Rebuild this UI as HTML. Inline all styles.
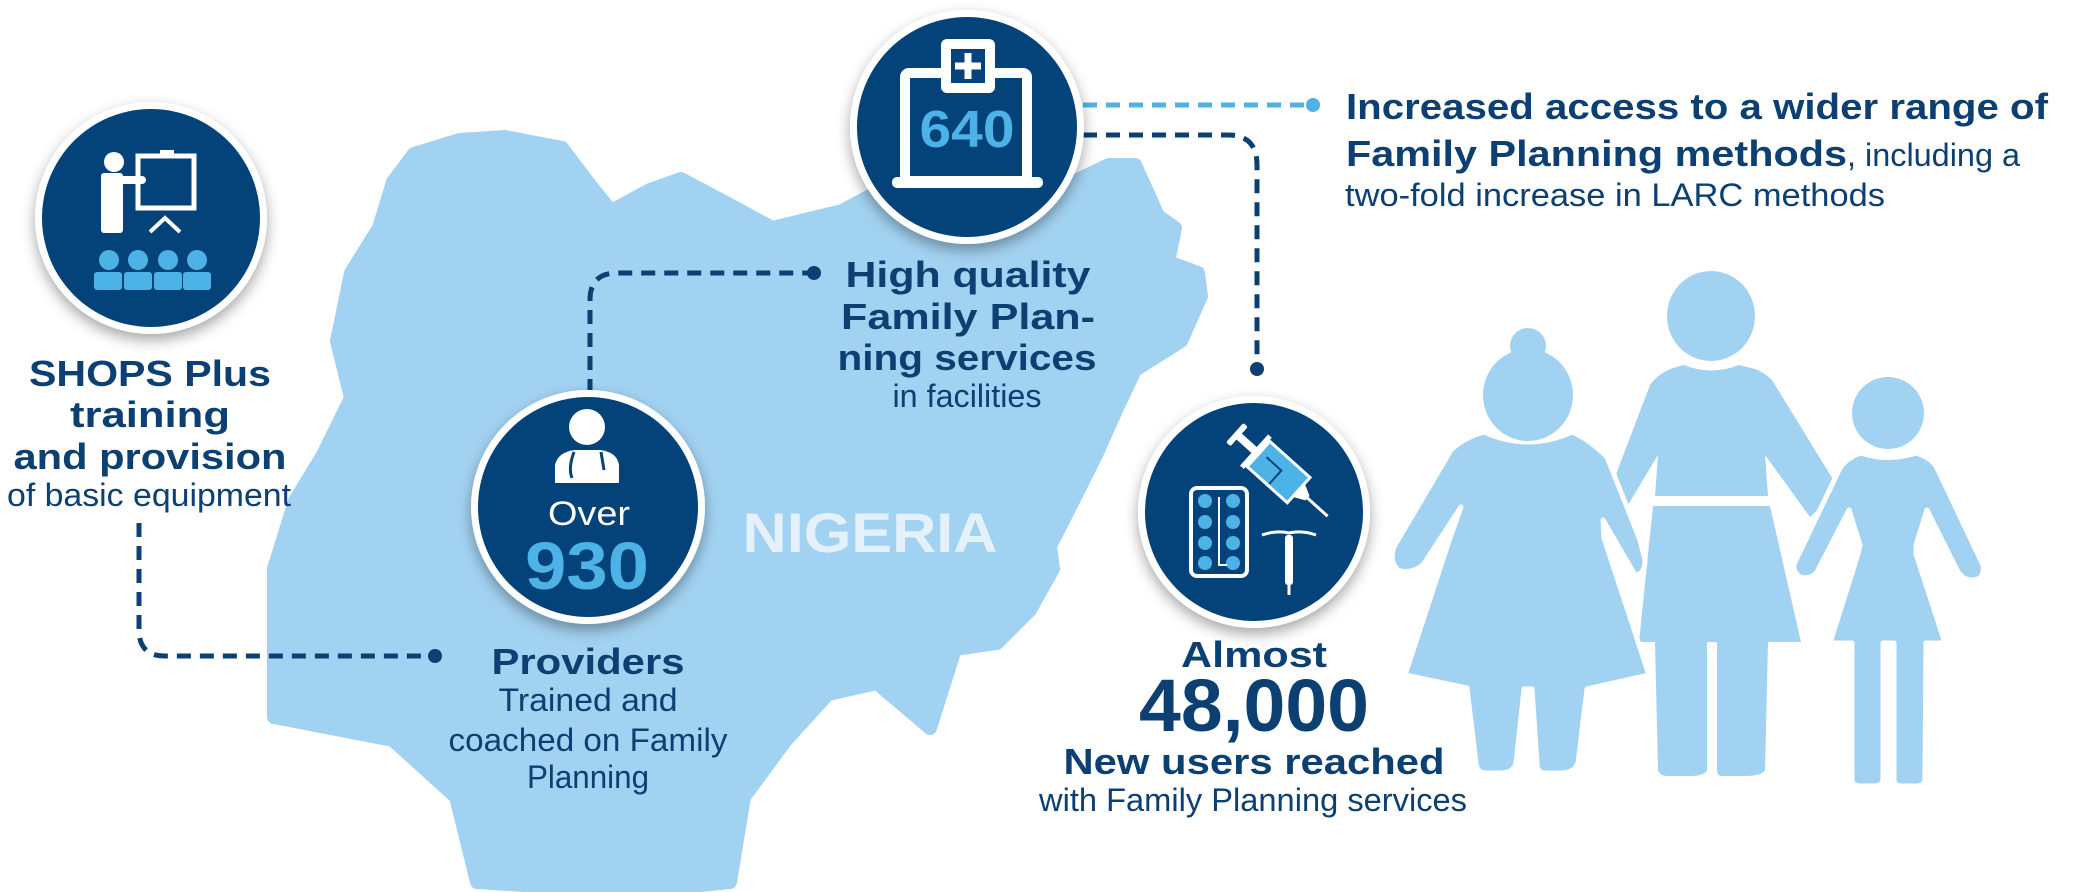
<!DOCTYPE html>
<html><head><meta charset="utf-8"><style>
html,body{margin:0;padding:0;background:#fff;}
svg{display:block;}
.b{font-family:"Liberation Sans",sans-serif;font-weight:bold;fill:#0c3f72;}
.l{font-family:"Liberation Sans",sans-serif;fill:#0c3f72;}
</style></head><body>
<svg width="2081" height="892" viewBox="0 0 2081 892" xmlns="http://www.w3.org/2000/svg">
<defs>
<filter id="sh" x="-30%" y="-30%" width="160%" height="160%"><feDropShadow dx="0" dy="6" stdDeviation="7" flood-color="#000" flood-opacity="0.35"/></filter>
</defs>
<!-- Nigeria map -->
<path fill="#a2d2f1" stroke="#a2d2f1" stroke-width="14" stroke-linejoin="round" d="M414,154 L460,140 505,137 562,148 590,185 611,211 650,190 681,179 730,205 772,228 842,211 885,188 960,200 1050,193 1109,165 1135,165 1158,216 1175,228 1168,262 1198,273 1201,296 1181,341 1135,370 1116,410 1096,455 1076,495 1050,546 1053,569 1030,610 997,643 955,649 930,728 877,683 828,694 786,740 744,797 730,882 632,892 477,882 456,797 393,740 274,717 274,569 295,501 323,455 351,398 337,341 351,273 379,228 393,182 Z"/>
<text x="870" y="552" text-anchor="middle" font-family="Liberation Sans,sans-serif" font-weight="bold" font-size="56" fill="#e4f0fa" textLength="255" lengthAdjust="spacingAndGlyphs">NIGERIA</text>

<!-- dashed connectors -->
<g fill="none" stroke="#0c3f72" stroke-width="5" stroke-dasharray="14 9">
<path d="M139,523 L139,630 Q139,656 165,656 L430,656"/>
<path d="M590,393 L590,300 Q590,273 617,273 L810,273"/>
<path d="M1083,135 L1228,135 Q1257,135 1257,165 L1257,365"/>
</g>
<path d="M1083,105 L1310,105" fill="none" stroke="#4db3e6" stroke-width="5" stroke-dasharray="14 9"/>
<g fill="#0c3f72"><circle cx="435" cy="656" r="7"/><circle cx="814" cy="273" r="7"/><circle cx="1257" cy="369" r="7"/></g>
<circle cx="1313" cy="105" r="7" fill="#4db3e6"/>

<!-- circles -->
<g filter="url(#sh)" fill="#fff">
<circle cx="151" cy="218" r="116"/><circle cx="967" cy="127" r="117"/><circle cx="588" cy="507" r="117"/><circle cx="1254" cy="512" r="116"/>
</g>
<g fill="#04427a">
<circle cx="151" cy="218" r="109"/><circle cx="967" cy="127" r="110"/><circle cx="588" cy="507" r="110"/><circle cx="1254" cy="512" r="109"/>
</g>

<!-- training icon -->
<g fill="#fff">
<circle cx="114" cy="162" r="10"/>
<rect x="101" y="173" width="22" height="60" rx="3"/>
<rect x="118" y="176" width="28" height="8" rx="4"/>
</g>
<rect x="138" y="156" width="56" height="52" fill="none" stroke="#fff" stroke-width="5"/>
<rect x="160" y="150" width="14" height="6" fill="#fff"/>
<path d="M150,232 L165,218 180,232" fill="none" stroke="#fff" stroke-width="4"/>
<g fill="#4db3e6">
<circle cx="109" cy="260" r="10"/><circle cx="138" cy="260" r="10"/><circle cx="168" cy="260" r="10"/><circle cx="197" cy="260" r="10"/>
<rect x="94" y="272" width="28" height="18" rx="3"/><rect x="124" y="272" width="28" height="18" rx="3"/><rect x="154" y="272" width="28" height="18" rx="3"/><rect x="183" y="272" width="28" height="18" rx="3"/>
</g>

<!-- 640 icon -->
<rect x="905" y="73" width="122" height="108" fill="none" stroke="#fff" stroke-width="10" rx="4"/>
<rect x="892" y="177" width="151" height="11" rx="5" fill="#fff"/>
<rect x="941" y="39" width="54" height="54" rx="6" fill="#fff"/>
<rect x="951" y="49" width="34" height="34" fill="#04427a"/>
<path d="M968,53 v26 M955,66 h26" stroke="#fff" stroke-width="7"/>
<text x="967" y="147" text-anchor="middle" font-family="Liberation Sans,sans-serif" font-weight="bold" font-size="52" fill="#4db3e6" textLength="95" lengthAdjust="spacingAndGlyphs">640</text>

<!-- doctor icon -->
<circle cx="587" cy="427" r="18" fill="#fff"/>
<path d="M555,483 L555,465 Q558,452 575,450 L600,450 Q617,452 619,465 L619,483 Z" fill="#fff"/>
<path d="M574,452 Q568,468 572,478 M601,452 L604,470" fill="none" stroke="#04427a" stroke-width="3"/>
<text x="589" y="525" text-anchor="middle" font-family="Liberation Sans,sans-serif" font-size="34" fill="#fff" textLength="82" lengthAdjust="spacingAndGlyphs">Over</text>
<text x="587" y="589" text-anchor="middle" font-family="Liberation Sans,sans-serif" font-weight="bold" font-size="67" fill="#4db3e6" textLength="124" lengthAdjust="spacingAndGlyphs">930</text>

<!-- contraceptives icon -->
<rect x="1191" y="488" width="56" height="88" rx="6" fill="none" stroke="#fff" stroke-width="4"/>
<g fill="#4db3e6">
<circle cx="1205" cy="501" r="7"/><circle cx="1233" cy="501" r="7"/>
<circle cx="1205" cy="522" r="7"/><circle cx="1233" cy="522" r="7"/>
<circle cx="1205" cy="543" r="7"/><circle cx="1233" cy="543" r="7"/>
<circle cx="1205" cy="563" r="7"/><circle cx="1233" cy="563" r="7"/>
</g>
<path d="M1219,497 V565 h8" stroke="#fff" stroke-width="2" fill="none"/>
<g transform="rotate(42 1280 472)">
<rect x="1220" y="460" width="6" height="26" rx="2" fill="#fff"/>
<rect x="1224" y="469" width="24" height="8" fill="#fff"/>
<rect x="1246" y="452" width="5" height="42" fill="#fff"/>
<rect x="1252" y="456" width="54" height="34" fill="#4db3e6" stroke="#fff" stroke-width="3"/>
<path d="M1260,470 h20 v18" stroke="#04427a" stroke-width="2" fill="none"/>
<path d="M1306,464 L1318,470 1318,476 1306,482 Z" fill="#fff"/>
<path d="M1318,473 H1345" stroke="#fff" stroke-width="3"/>
</g>
<path d="M1262,535 Q1276,530 1289,533 Q1302,530 1316,535" stroke="#fff" stroke-width="3" fill="none"/>
<rect x="1285" y="535" width="8" height="50" rx="3" fill="#fff"/>
<path d="M1289,585 v10" stroke="#fff" stroke-width="3"/>

<!-- family -->
<g fill="#a2d2f1">
<ellipse cx="1711" cy="316" rx="44" ry="45"/>
<path d="M1684,365 Q1711,376 1739,365 L1755,369 Q1770,375 1775,385 L1834,481 Q1830,500 1810,517 L1765,455 L1768,496 1655,496 1658,455 1625,510 1610,490 1650,385 Q1660,370 1684,365 Z"/>
<path d="M1653,506 L1770,506 1801,642 1768,642 1765,770 Q1762,776 1745,776 L1722,776 Q1717,776 1717,770 L1717,642 1707,642 1707,770 Q1705,776 1690,776 L1668,776 Q1660,776 1658,770 L1655,642 1639,642 Z"/>
</g>
<g fill="#a2d2f1" stroke="#fff" stroke-width="5" stroke-linejoin="round">
<path d="M1484,432 Q1528,452 1572,432 Q1590,440 1607,457 L1640,540 1645,560 Q1645,575 1635,575 L1603,520 1604,538 1649,675 1587,689 1578,763 Q1575,773 1560,773 L1545,773 Q1537,773 1537,763 L1532,689 1524,689 1516,763 Q1514,773 1500,773 L1485,773 Q1477,773 1476,763 L1467,688 1405,675 1450,538 1461,507 1423,565 Q1410,575 1398,570 Q1388,560 1395,545 L1451,450 Q1465,437 1484,432 Z"/>
</g>
<g fill="#a2d2f1">
<ellipse cx="1528" cy="395" rx="45" ry="46"/>
<circle cx="1528" cy="346" r="18"/>
</g>
<g fill="#a2d2f1" stroke="#fff" stroke-width="5" stroke-linejoin="round">
<path d="M1861,453 Q1888,462 1916,453 Q1932,458 1937,468 L1983,565 Q1985,580 1972,580 Q1962,580 1957,570 L1927,510 1916,545 1916,554 1945,643 1926,643 1925,780 Q1924,786 1915,786 L1903,786 Q1894,786 1894,780 L1894,643 1883,643 1883,780 Q1882,786 1873,786 L1862,786 Q1852,786 1852,780 L1852,643 1830,643 1858,554 1860,545 1849,510 1817,572 Q1810,580 1800,577 Q1790,570 1796,560 L1840,468 Q1848,457 1861,453 Z"/>
</g>
<ellipse cx="1888" cy="413" rx="36" ry="36" fill="#a2d2f1"/>

<!-- texts -->
<text class="b" x="150" y="386" text-anchor="middle" font-size="36" textLength="242" lengthAdjust="spacingAndGlyphs">SHOPS Plus</text>
<text class="b" x="150" y="427" text-anchor="middle" font-size="36" textLength="160" lengthAdjust="spacingAndGlyphs">training</text>
<text class="b" x="150" y="469" text-anchor="middle" font-size="36" textLength="273" lengthAdjust="spacingAndGlyphs">and provision</text>
<text class="l" x="149" y="506" text-anchor="middle" font-size="32" textLength="284" lengthAdjust="spacingAndGlyphs">of basic equipment</text>

<text class="b" x="588" y="674" text-anchor="middle" font-size="36" textLength="193" lengthAdjust="spacingAndGlyphs">Providers</text>
<text class="l" x="588" y="711" text-anchor="middle" font-size="32" textLength="179" lengthAdjust="spacingAndGlyphs">Trained and</text>
<text class="l" x="588" y="751" text-anchor="middle" font-size="32" textLength="279" lengthAdjust="spacingAndGlyphs">coached on Family</text>
<text class="l" x="588" y="788" text-anchor="middle" font-size="32" textLength="122" lengthAdjust="spacingAndGlyphs">Planning</text>

<text class="b" x="968" y="287" text-anchor="middle" font-size="36" textLength="245" lengthAdjust="spacingAndGlyphs">High quality</text>
<text class="b" x="968" y="329" text-anchor="middle" font-size="36" textLength="254" lengthAdjust="spacingAndGlyphs">Family Plan-</text>
<text class="b" x="967" y="370" text-anchor="middle" font-size="36" textLength="259" lengthAdjust="spacingAndGlyphs">ning services</text>
<text class="l" x="967" y="407" text-anchor="middle" font-size="32" textLength="149" lengthAdjust="spacingAndGlyphs">in facilities</text>

<text class="b" x="1346" y="119" font-size="36" textLength="702" lengthAdjust="spacingAndGlyphs">Increased access to a wider range of</text>
<text class="b" x="1346" y="166" font-size="36" textLength="501" lengthAdjust="spacingAndGlyphs">Family Planning methods</text>
<text class="l" x="1847" y="166" font-size="32" textLength="173" lengthAdjust="spacingAndGlyphs">, including a</text>
<text class="l" x="1345" y="206" font-size="32" textLength="540" lengthAdjust="spacingAndGlyphs">two-fold increase in LARC methods</text>

<text class="b" x="1254" y="667" text-anchor="middle" font-size="36" textLength="146" lengthAdjust="spacingAndGlyphs">Almost</text>
<text class="b" x="1254" y="731" text-anchor="middle" font-size="74" textLength="230" lengthAdjust="spacingAndGlyphs">48,000</text>
<text class="b" x="1254" y="774" text-anchor="middle" font-size="36" textLength="381" lengthAdjust="spacingAndGlyphs">New users reached</text>
<text class="l" x="1253" y="811" text-anchor="middle" font-size="32" textLength="428" lengthAdjust="spacingAndGlyphs">with Family Planning services</text>
</svg>
</body></html>
